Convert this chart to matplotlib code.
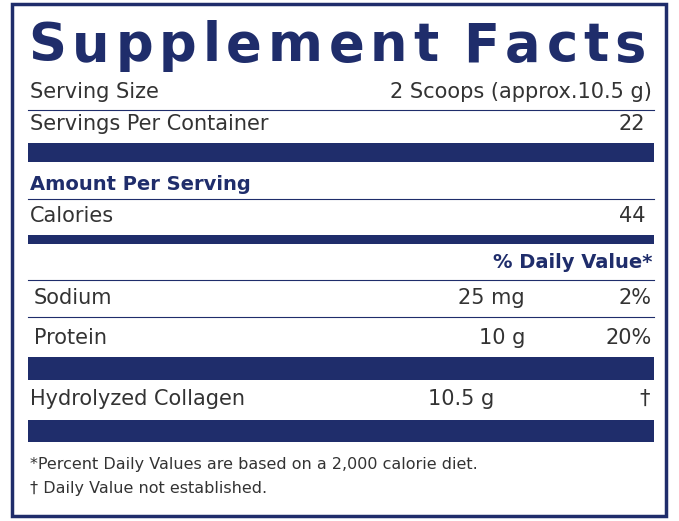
import matplotlib.pyplot as plt
from matplotlib.patches import Rectangle

NAVY = "#1f2d6b"
TEXT = "#333333"

title = "Supplement Facts"
serving_size = "2 Scoops (approx.10.5 g)"
servings_per_container = "22"
calories = "44"
nutrients = ["Sodium", "Protein"]
nutrient_amounts = ["25 mg", "10 g"]
nutrient_dv = ["2%", "20%"]
other_name = "Hydrolyzed Collagen"
other_amount = "10.5 g"
other_dv = "\u2020"
footnotes = ["*Percent Daily Values are based on a 2,000 calorie diet.",
             "\u2020 Daily Value not established."]

fig = plt.figure(figsize=(6.79, 5.21), dpi=100)
ax = fig.add_axes([0, 0, 1, 1])
ax.set_xlim(0, 679)
ax.set_ylim(521, 0)
ax.axis("off")

ax.add_patch(Rectangle((12, 4), 654, 512, fill=False, ec=NAVY, lw=2.5))


def bar(y0, y1):
    ax.add_patch(Rectangle((28, y0), 626, y1 - y0, color=NAVY, lw=0))


def rule(y):
    ax.plot([28, 654], [y, y], color=NAVY, lw=0.8)


def txt(x, y, s, ha="left", size=15, bold=False, color=TEXT):
    ax.text(x, y, s, ha=ha, va="center", fontsize=size, color=color,
            fontweight="bold" if bold else "normal", family="DejaVu Sans")


# spaced-out title: measure each glyph, spread the leftover room evenly
renderer = fig.canvas.get_renderer()
letters = []
for ch in title:
    t = ax.text(0, 46, ch if ch != " " else "-", ha="left", va="center",
                fontsize=38, fontweight="bold", color=NAVY, family="DejaVu Sans")
    w = t.get_window_extent(renderer).width
    if ch == " ":
        t.set_text("")
        w *= 0.6
    letters.append((t, w))
gap = (618 - sum(w for _, w in letters)) / (len(letters) - 1)
x = 28
for t, w in letters:
    t.set_x(x)
    x += w + gap

txt(30, 92, "Serving Size")
txt(652, 92, serving_size, ha="right")
rule(110)
txt(30, 124, "Servings Per Container")
txt(645, 124, servings_per_container, ha="right")
bar(143, 162)
txt(30, 184, "Amount Per Serving", size=14, bold=True, color=NAVY)
rule(199)
txt(30, 216, "Calories")
txt(645, 216, calories, ha="right")
bar(235, 244)
txt(652, 263, "% Daily Value*", ha="right", size=14, bold=True, color=NAVY)
rule(280)

ys = [298, 338]
for i, (n, a, d) in enumerate(zip(nutrients, nutrient_amounts, nutrient_dv)):
    txt(34, ys[i], n)
    txt(525, ys[i], a, ha="right")
    txt(652, ys[i], d, ha="right")
    if i == 0:
        rule(317)
bar(357, 380)
txt(30, 399, other_name)
txt(494, 399, other_amount, ha="right")
txt(650, 399, other_dv, ha="right")
bar(420, 442)
txt(30, 465, footnotes[0], size=11.5)
txt(30, 489, footnotes[1], size=11.5)

fig.savefig("out.png", dpi=100)
